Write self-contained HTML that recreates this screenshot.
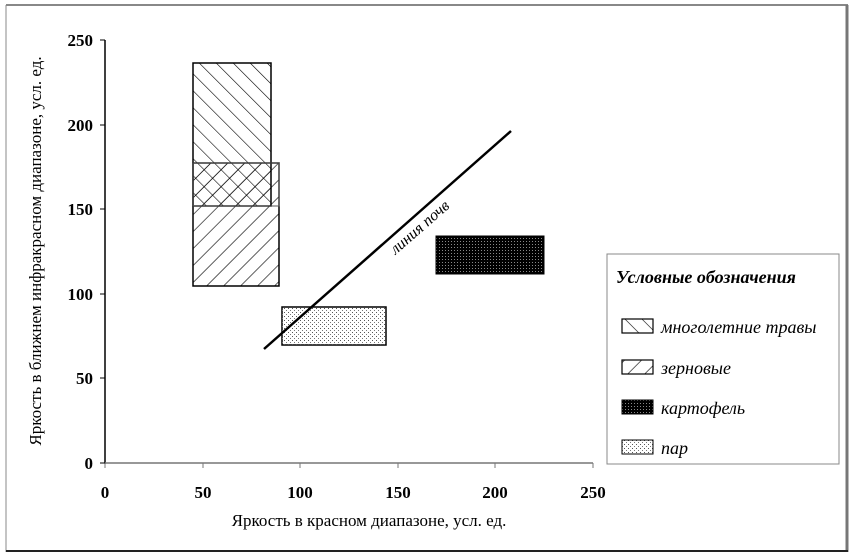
<!DOCTYPE html>
<html><head><meta charset="utf-8"><style>
html,body{margin:0;padding:0;background:#fff;}
svg{display:block;}
text{font-family:"Liberation Serif",serif;}
</style></head><body>
<svg width="854" height="557" viewBox="0 0 854 557" xmlns="http://www.w3.org/2000/svg">
<defs>
<pattern id="bk" patternUnits="userSpaceOnUse" width="12" height="12" patternTransform="rotate(-45)">
<line x1="0" y1="0" x2="0" y2="12" stroke="#000" stroke-width="1.2"/></pattern>
<pattern id="fw" patternUnits="userSpaceOnUse" width="12" height="12" patternTransform="rotate(45)">
<line x1="0" y1="0" x2="0" y2="12" stroke="#000" stroke-width="1.2"/></pattern>
<pattern id="dots" patternUnits="userSpaceOnUse" width="4" height="4">
<rect x="0" y="0" width="1" height="1" fill="#555"/><rect x="2" y="2" width="1" height="1" fill="#777"/></pattern>
<pattern id="dark" patternUnits="userSpaceOnUse" width="3" height="3">
<rect width="3" height="3" fill="#000"/><rect x="1" y="1" width="1" height="1" fill="#888"/></pattern>
</defs>
<rect x="0" y="0" width="854" height="557" fill="#fff"/>
<line x1="6" y1="5" x2="848" y2="5" stroke="#888" stroke-width="2"/>
<line x1="6" y1="5" x2="6" y2="552" stroke="#888" stroke-width="1"/>
<line x1="847" y1="5" x2="847" y2="552" stroke="#777" stroke-width="3"/>
<line x1="6" y1="551" x2="848" y2="551" stroke="#222" stroke-width="2"/>

<line x1="105" y1="40" x2="105" y2="464" stroke="#000" stroke-width="1.5"/>
<line x1="105" y1="463" x2="593" y2="463" stroke="#777" stroke-width="1.5"/>
<g stroke="#000" stroke-width="1">
<line x1="100" y1="40" x2="105" y2="40"/><line x1="100" y1="125" x2="105" y2="125"/>
<line x1="100" y1="209" x2="105" y2="209"/><line x1="100" y1="294" x2="105" y2="294"/>
<line x1="100" y1="378" x2="105" y2="378"/><line x1="100" y1="463" x2="105" y2="463"/>
</g>
<g stroke="#777" stroke-width="1">
<line x1="105" y1="463" x2="105" y2="468"/><line x1="203" y1="463" x2="203" y2="468"/>
<line x1="300" y1="463" x2="300" y2="468"/><line x1="398" y1="463" x2="398" y2="468"/>
<line x1="495" y1="463" x2="495" y2="468"/><line x1="593" y1="463" x2="593" y2="468"/>
</g>
<g font-size="17" font-weight="bold" text-anchor="end">
<text x="93" y="46">250</text><text x="93" y="131">200</text><text x="93" y="215">150</text>
<text x="93" y="300">100</text><text x="93" y="384">50</text><text x="93" y="469">0</text>
</g>
<g font-size="17" font-weight="bold" text-anchor="middle">
<text x="105" y="498">0</text><text x="203" y="498">50</text><text x="300" y="498">100</text>
<text x="398" y="498">150</text><text x="495" y="498">200</text><text x="593" y="498">250</text>
</g>
<text x="369" y="526" font-size="17" text-anchor="middle">Яркость в красном диапазоне, усл. ед.</text>
<text transform="translate(41,251) rotate(-90)" font-size="17" text-anchor="middle">Яркость в ближнем инфракрасном диапазоне, усл. ед.</text>

<rect x="193" y="163" width="86" height="123" fill="url(#fw)" stroke="#000" stroke-width="1.5"/>
<rect x="193" y="63" width="78" height="143" fill="url(#bk)" stroke="#000" stroke-width="1.5"/>
<rect x="193" y="163" width="78" height="43" fill="url(#fw)" stroke="none"/>
<rect x="193" y="163" width="86" height="43" fill="none" stroke="#555" stroke-width="1"/>
<rect x="282" y="307" width="104" height="38" fill="#fff" stroke="#000" stroke-width="1.5"/>
<rect x="282" y="307" width="104" height="38" fill="url(#dots)"/>
<rect x="436" y="236" width="108" height="38" fill="url(#dark)" stroke="#000" stroke-width="1"/>
<line x1="264" y1="349" x2="511" y2="131" stroke="#000" stroke-width="2.5"/>
<text transform="translate(423,231) rotate(-41)" font-size="16" font-style="italic" text-anchor="middle">линия почв</text>

<rect x="607" y="254" width="232" height="210" fill="#fff" stroke="#888" stroke-width="1"/>
<text x="616" y="283" font-size="18" font-weight="bold" font-style="italic">Условные обозначения</text>
<rect x="622" y="319" width="31" height="14" fill="url(#bk)" stroke="#000" stroke-width="1.2"/>
<rect x="622" y="360" width="31" height="14" fill="url(#fw)" stroke="#000" stroke-width="1.2"/>
<rect x="622" y="400" width="31" height="14" fill="url(#dark)" stroke="#000" stroke-width="1"/>
<rect x="622" y="440" width="31" height="14" fill="url(#dots)" stroke="#000" stroke-width="1"/>
<g font-size="18" font-style="italic">
<text x="661" y="333">многолетние травы</text>
<text x="661" y="374">зерновые</text>
<text x="661" y="414">картофель</text>
<text x="661" y="454">пар</text>
</g>
</svg>
</body></html>
